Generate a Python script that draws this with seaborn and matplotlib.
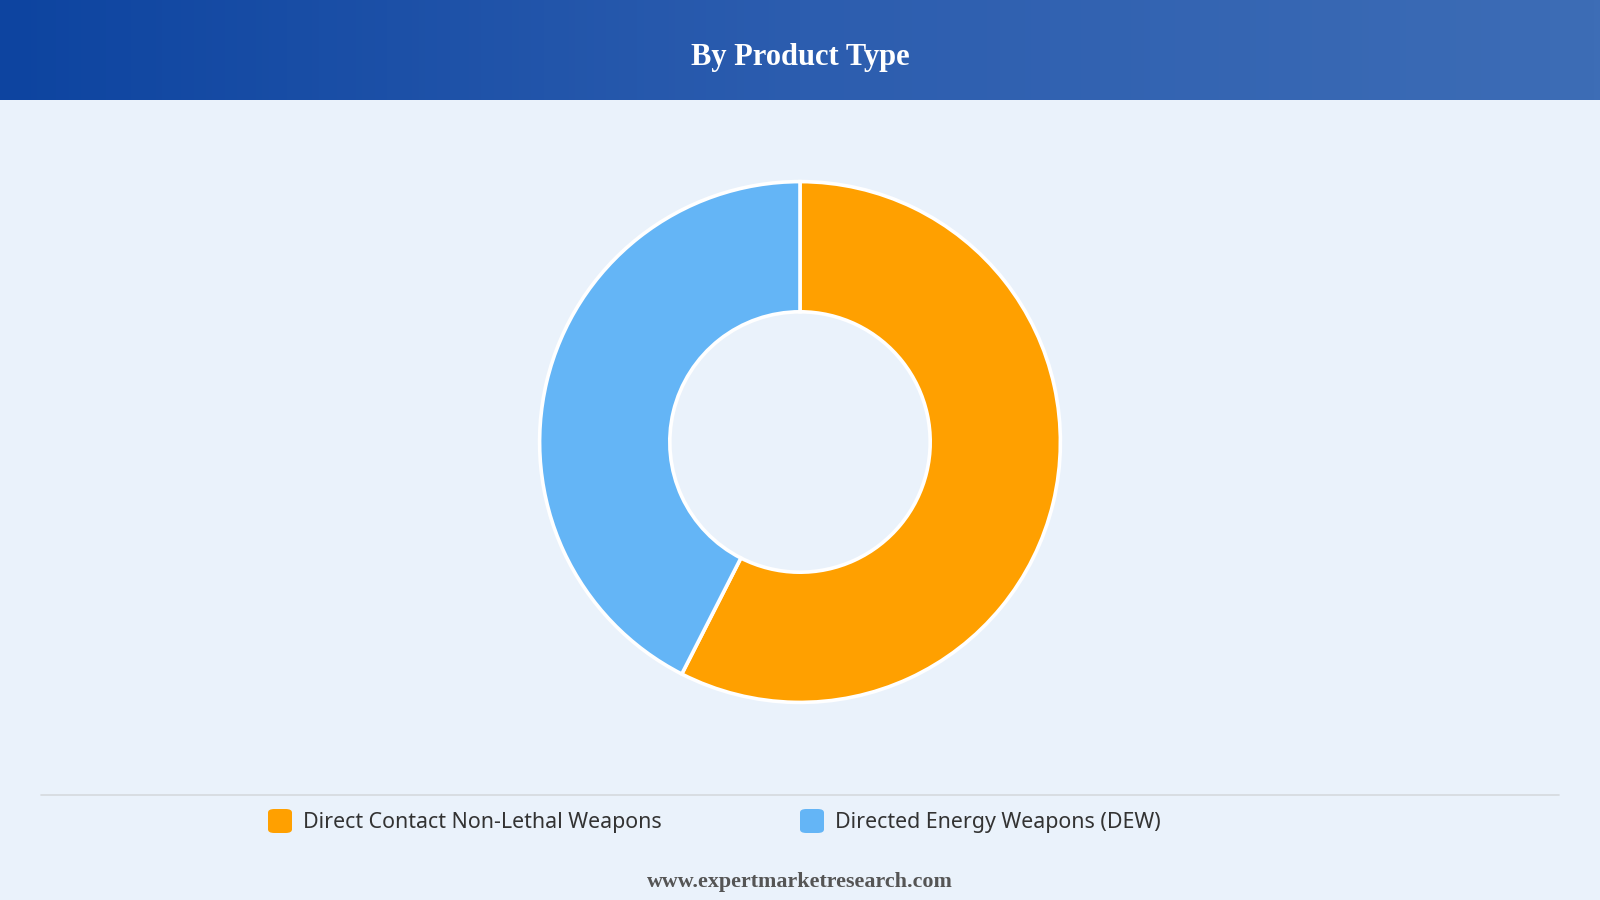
import numpy as np
import matplotlib
matplotlib.use("Agg")
import matplotlib.pyplot as plt
from matplotlib.patches import FancyBboxPatch
import seaborn as sns

title = "By Product Type"
labels = ["Direct Contact Non-Lethal Weapons", "Directed Energy Weapons (DEW)"]
shares = [57.5, 42.5]
colors = ["#FFA000", "#64B5F6"]
source = "www.expertmarketresearch.com"

sns.set_style("white")
plt.rcParams["font.family"] = ["Noto Sans", "DejaVu Sans"]

W, H = 1600, 900
fig = plt.figure(figsize=(16, 9), dpi=100)
bg = "#EAF2FB"
fig.patch.set_facecolor(bg)

# header band with horizontal gradient
hdr = fig.add_axes([0, 1 - 100 / H, 1, 100 / H])
grad = np.linspace(0, 1, 256).reshape(1, -1)
cmap = matplotlib.colors.LinearSegmentedColormap.from_list("hdr", ["#0D44A0", "#2C5DAF", "#3D6DB6"])
hdr.imshow(grad, aspect="auto", cmap=cmap, extent=[0, 1, 0, 1])
hdr.set_axis_off()
hdr.text(0.5, 0.42, title, ha="center", va="center", color="white",
         fontsize=22, fontweight="bold", family=["Liberation Serif", "DejaVu Serif"])

# donut
cx, cy, r = 800, 442, 263
ax = fig.add_axes([(cx - r) / W, 1 - (cy + r) / H, 2 * r / W, 2 * r / H])
ax.set_facecolor("none")
ax.pie(shares, colors=colors, startangle=90, counterclock=False, radius=1,
       wedgeprops=dict(width=0.5, edgecolor="white", linewidth=2.6))
ax.set_xlim(-1.01, 1.01)
ax.set_ylim(-1.01, 1.01)
ax.set_axis_off()

# separator line
fig.add_artist(plt.Line2D([41 / W, 1559 / W], [1 - 795 / H, 1 - 795 / H],
                          color="#D5D9DE", linewidth=1.2))

# legend
leg_x = [268, 800]
ly = 821
for x, lab, col in zip(leg_x, labels, colors):
    fig.add_artist(FancyBboxPatch((x / W, 1 - (ly + 12) / H), 24 / W, 24 / H,
                                  boxstyle="round,pad=0,rounding_size=0.004",
                                  transform=fig.transFigure, facecolor=col, edgecolor="none"))
    fig.text((x + 35) / W, 1 - (ly + 1.5) / H, lab, ha="left", va="center",
             fontsize=15.4, color="#333333")

# source
fig.text(0.5, 1 - 882 / H, source, ha="center", va="center", fontsize=15.8,
         fontweight="bold", color="#555555", family=["Liberation Serif", "DejaVu Serif"])

fig.savefig("out.png", dpi=100, facecolor=fig.get_facecolor())
